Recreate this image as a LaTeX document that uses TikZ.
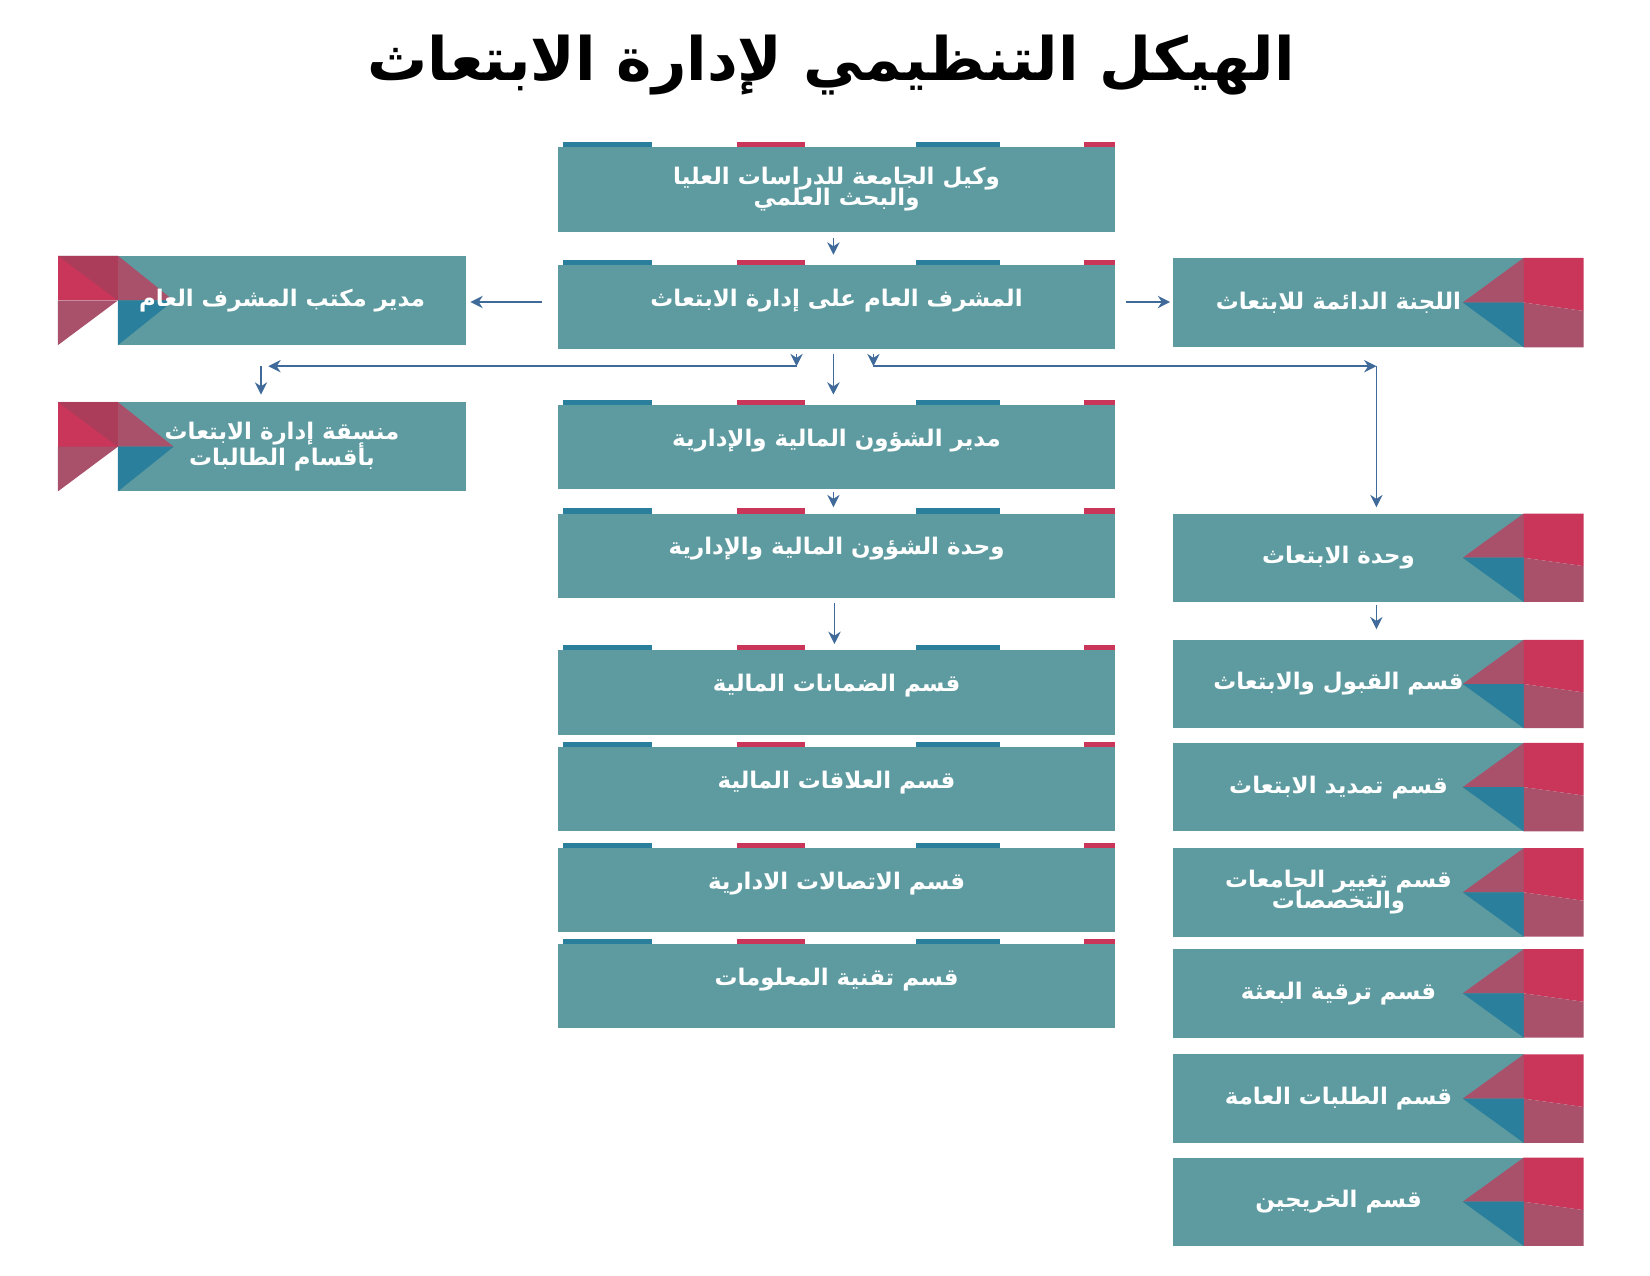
\documentclass[tikz,border=0pt]{standalone}
\usepackage{fontspec}
\TeXXeTstate=1
\newfontfamily\ar[Script=Arabic]{DejaVu Sans}
\usetikzlibrary{arrows.meta}
\definecolor{teal1}{HTML}{5E9BA0}
\definecolor{mauve}{HTML}{A9506B}
\definecolor{redd}{HTML}{C9365A}
\definecolor{blu}{HTML}{2A7F9C}
\definecolor{arr}{HTML}{3F6A9A}
\tikzset{
 lbl/.style={text=white,font=\ar\bfseries\fontsize{13}{13}\selectfont,align=center,inner sep=0pt},
 con/.style={draw=arr,line width=0.9pt,-{Stealth[length=7pt,width=7pt]}},
 lin/.style={draw=arr,line width=0.9pt}
}
\newcommand{\cbox}[5]{% name, top, bottom, line1, line2
 \fill[teal1] (530,#2) rectangle (1060,#3);
 \fill[blu] (535,#2-5) rectangle (620,#2);
 \fill[redd] (700,#2-5) rectangle (765,#2);
 \fill[blu] (870,#2-5) rectangle (950,#2);
 \fill[redd] (1030,#2-5) rectangle (1060,#2);
 \node[lbl] (#1) at (795,{(#2+#3)/2}) {\beginR #4\endR\\[-2pt]\beginR #5\endR};}
\newcommand{\rbox}[4]{% name, top, bottom, text
 \fill[teal1] (1115,#2) rectangle (1448,#3);
 \fill[mauve] (1390,{(#2+#3)/2}) -- (1448,#2) -- (1448,{(#2+#3)/2}) -- cycle;
 \fill[blu] (1390,{(#2+#3)/2}) -- (1448,{(#2+#3)/2}) -- (1448,#3) -- cycle;
 \fill[redd] (1448,#2) -- (1505,#2) -- (1505,{(#2+#3)/2+8}) -- (1448,{(#2+#3)/2}) -- cycle;
 \fill[mauve] (1448,{(#2+#3)/2}) -- (1505,{(#2+#3)/2+8}) -- (1505,#3) -- (1448,#3) -- cycle;
 \node[lbl] (#1) at (1272,{(#2+#3)/2}) {#4};}
\newcommand{\lbox}[4]{%
 \fill[teal1] (112,#2) rectangle (443,#3);
 \fill[mauve] (165,{(#2+#3)/2}) -- (112,#2) -- (112,{(#2+#3)/2}) -- cycle;
 \fill[blu] (165,{(#2+#3)/2}) -- (112,{(#2+#3)/2}) -- (112,#3) -- cycle;
 \fill[redd] (112,#2) -- (55,#2) -- (55,{(#2+#3)/2}) -- (112,{(#2+#3)/2}) -- cycle;
 \fill[mauve] (112,{(#2+#3)/2}) -- (55,{(#2+#3)/2}) -- (55,#3) -- cycle;
 \fill[mauve!85!black,opacity=0.5] (55,#2) -- (112,#2) -- (112,{(#2+#3)/2}) -- cycle;
 \node[lbl] (#1) at (268,{(#2+#3)/2}) {#4};}
\begin{document}
\begin{tikzpicture}[x=0.021cm,y=-0.021cm]
\useasboundingbox (0,0) rectangle (1568,1212);
\node[font=\ar\bfseries\fontsize{34}{34}\selectfont] (title) at (790,62) {\beginR الهيكل التنظيمي لإدارة الابتعاث\endR};
\cbox{b1}{140}{220}{وكيل الجامعة للدراسات العليا}{والبحث العلمي}
\cbox{b2}{252}{332}{المشرف العام على إدارة الابتعاث}{}
\cbox{b3}{385}{465}{مدير الشؤون المالية والإدارية}{}
\cbox{b4}{488}{568}{وحدة الشؤون المالية والإدارية}{}
\cbox{b5}{618}{698}{قسم الضمانات المالية}{}
\cbox{b6}{710}{790}{قسم العلاقات المالية}{}
\cbox{b7}{806}{886}{قسم الاتصالات الادارية}{}
\cbox{b8}{897}{977}{قسم تقنية المعلومات}{}
\lbox{l1}{243}{328}{\beginR مدير مكتب المشرف العام\endR}
\lbox{l2}{382}{467}{\beginR منسقة إدارة الابتعاث\endR\\[-2pt]\beginR بأقسام الطالبات\endR}
\rbox{r1}{245}{330}{\beginR اللجنة الدائمة للابتعاث\endR}
\rbox{r2}{488}{572}{\beginR وحدة الابتعاث\endR}
\rbox{r3}{608}{692}{\beginR قسم القبول والابتعاث\endR}
\rbox{r4}{706}{790}{\beginR قسم تمديد الابتعاث\endR}
\rbox{r5}{806}{890}{\beginR قسم تغيير الجامعات\endR\\[-2pt]\beginR والتخصصات\endR}
\rbox{r6}{902}{986}{\beginR قسم ترقية البعثة\endR}
\rbox{r7}{1002}{1086}{\beginR قسم الطلبات العامة\endR}
\rbox{r8}{1100}{1184}{\beginR قسم الخريجين\endR}
% connectors
\coordinate (a1) at (792,226); \coordinate (a2) at (792,242);
\draw[con] (a1) -- (a2);
\coordinate (a3) at (515,287); \coordinate (a4) at (447,287);
\draw[con] (a3) -- (a4);
\coordinate (a5) at (1070,287); \coordinate (a6) at (1112,287);
\draw[con] (a5) -- (a6);
\coordinate (a7) at (792,336); \coordinate (a8) at (792,375);
\draw[con] (a7) -- (a8);
\coordinate (a9) at (757,336); \coordinate (a10) at (757,348);
\draw[con] (a9) -- (a10);
\coordinate (a11) at (830,336); \coordinate (a12) at (830,348);
\draw[con] (a11) -- (a12);
\coordinate (h0) at (757,348); \coordinate (hl) at (255,348); \coordinate (hr) at (1308,348);
\coordinate (h1) at (830,348);
\draw[con] (h0) -- (hl);
\draw[con] (h1) -- (hr);
\coordinate (d1) at (248,348); \coordinate (d2) at (248,375);
\draw[con] (d1) -- (d2);
\coordinate (d3) at (1308,348); \coordinate (d4) at (1308,482);
\draw[con] (d3) -- (d4);
\coordinate (e1) at (792,468); \coordinate (e2) at (792,482);
\draw[con] (e1) -- (e2);
\coordinate (e3) at (793,573); \coordinate (e4) at (793,612);
\draw[con] (e3) -- (e4);
\coordinate (e5) at (1308,575); \coordinate (e6) at (1308,598);
\draw[con] (e5) -- (e6);
\end{tikzpicture}
\end{document}
